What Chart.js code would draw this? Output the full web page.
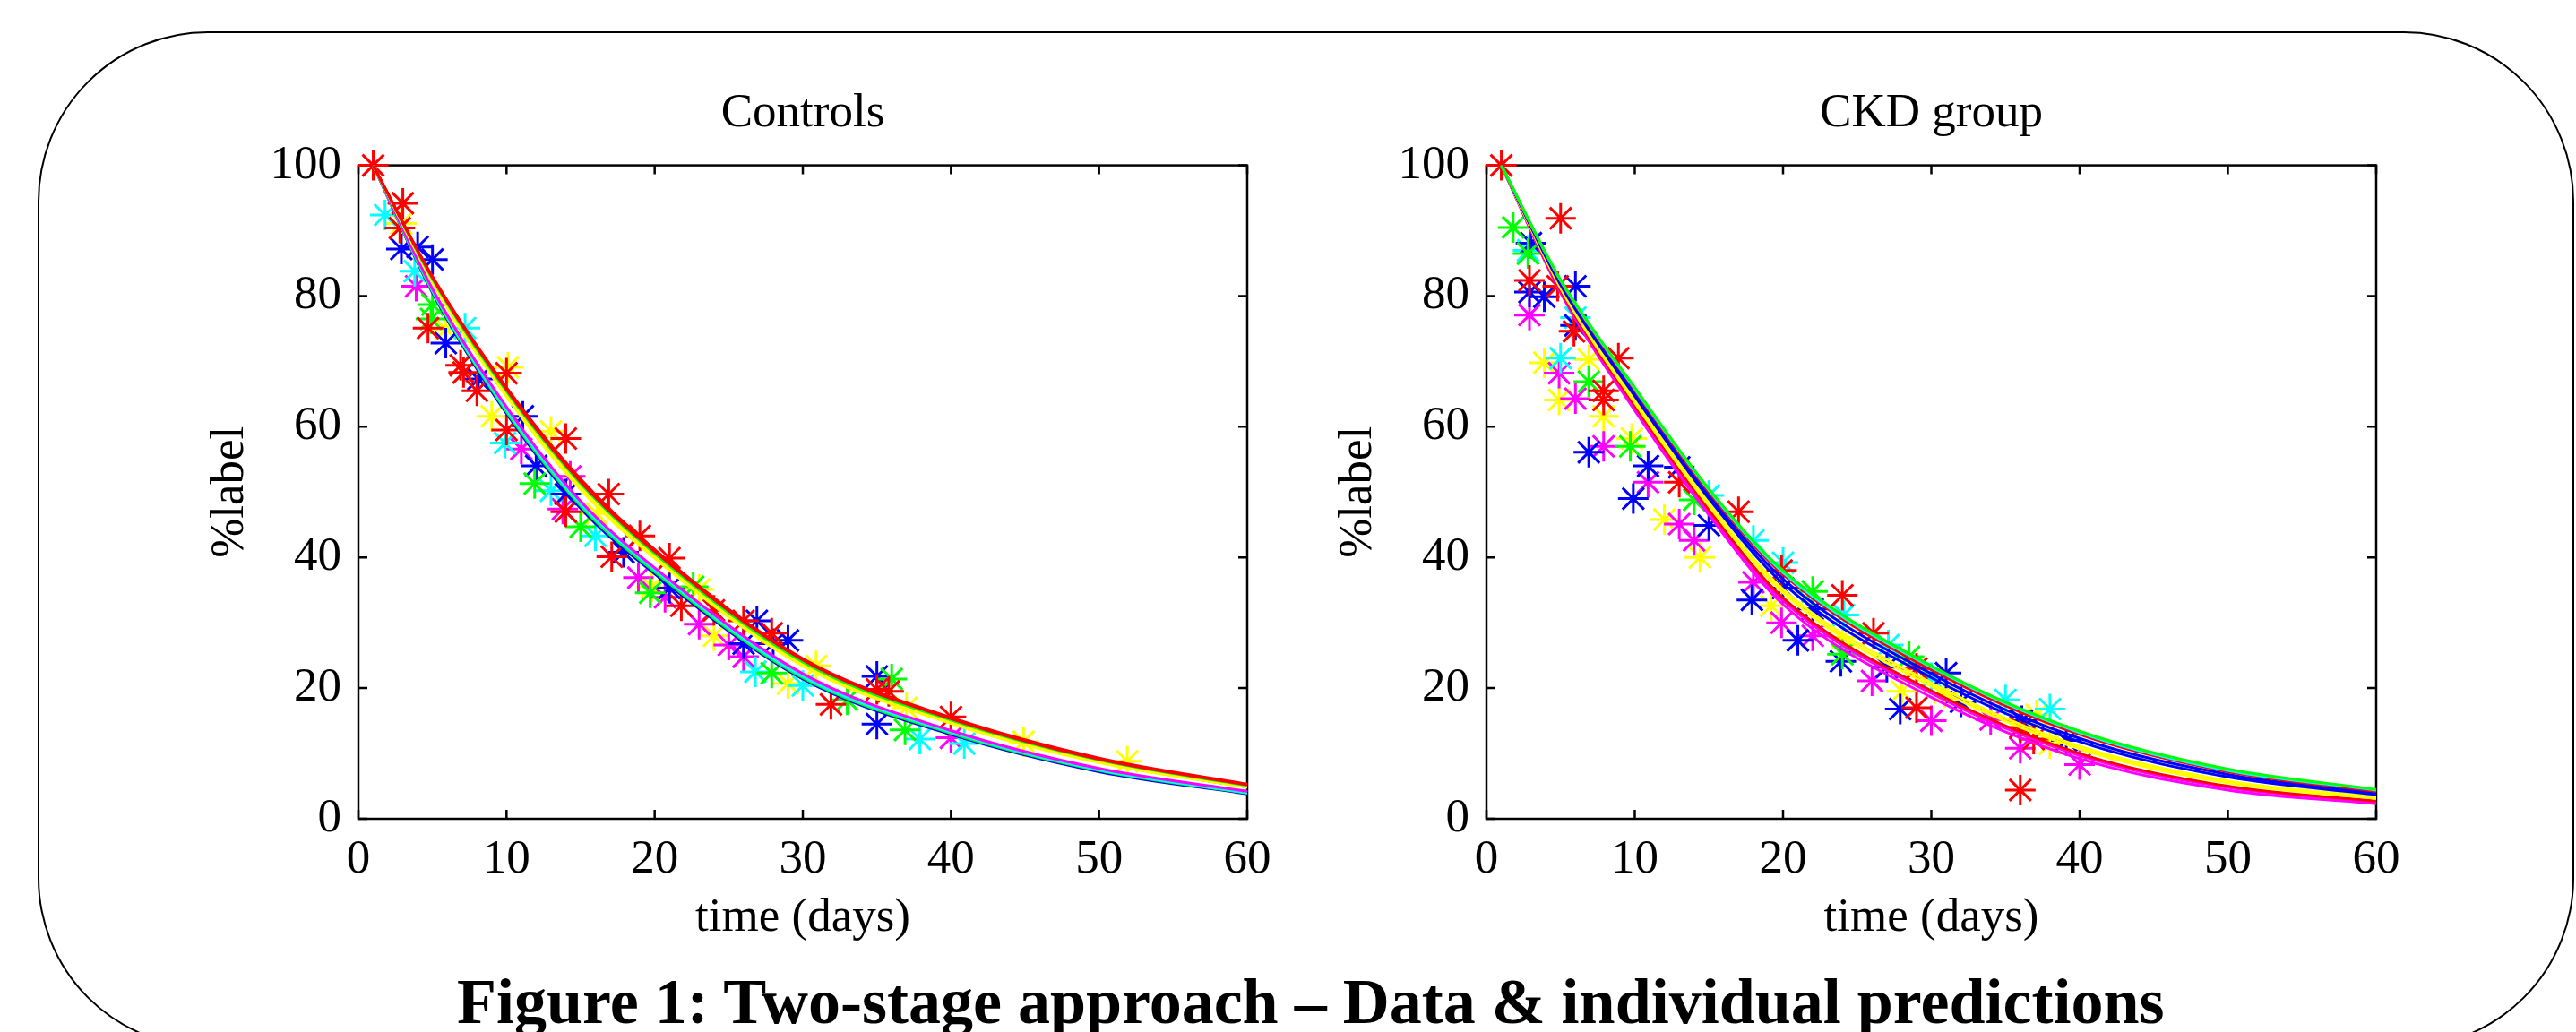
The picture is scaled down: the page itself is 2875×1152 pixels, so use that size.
<!DOCTYPE html>
<html>
<head>
<meta charset="utf-8">
<script src="https://cdn.jsdelivr.net/npm/chart.js@4.4.0/dist/chart.umd.min.js"></script>
<style>
  body { margin: 0; width: 2875px; height: 1152px; overflow: hidden; background: #fff; position: relative; }
  .frame { position: absolute; left: 42px; top: 35px; width: 2831px; height: 1135px; box-sizing: border-box;
           border: 2px solid #000; border-radius: 190px; }
  canvas { position: absolute; }
  .caption { position: absolute; left: 510px; top: 1082px; font: bold 72px "Liberation Serif", "Times New Roman", serif;
             line-height: 72px; white-space: nowrap; color: #000; }
</style>
</head>
<body>
<div class="frame"></div>
<canvas id="controls" width="1250" height="980" style="left:200px; top:80px"></canvas>
<canvas id="ckd" width="1251" height="980" style="left:1459px; top:80px"></canvas>
<div class="caption">Figure 1: Two-stage approach – Data &amp; individual predictions</div>

<script>
const xTicks = [0, 10, 20, 30, 40, 50, 60];
const yTicks = [0, 20, 40, 60, 80, 100];
const curveTimes = [1, 5, 10, 15, 20, 30, 40, 50, 60];

// Controls: measured data (time, %label)
const ctrlRed = [[1,100],[3,94.2],[2.8,90.4],[4.7,75.1],[6.9,69.4],[7.1,68.3],[10,68.2],[8,65.5],[10,59.5],[14,58.2],[14,47.0],[16.9,49.7],[17.1,40.1],[19,43.3],[21,39.9],[21.8,32.6],[24,31.9],[26,30.3],[27.9,28.4],[31.9,17.5],[35,19.8],[35.8,19.5],[40,15.6]];
const ctrlGreen = [[5,78.7],[4.9,76.5],[11.9,51.3],[15,44.7],[19.7,34.6],[22.6,35.5],[27.9,22.3],[33,18.2],[36,21.4],[36.9,13.6]];
const ctrlBlue = [[2.9,87.2],[4,87.5],[5,85.6],[5.9,72.8],[8.1,67.3],[11.1,61.6],[12,54.0],[14,49.7],[17.9,40.8],[21,35.3],[26.9,30.3],[29,27.3],[28,26.8],[26,26.8],[35,21.8],[35,14.5]];
const ctrlCyan = [[1.8,92.4],[3.8,83.8],[7.2,75.1],[9.9,57.5],[13,50.2],[16,43.3],[26.8,22.5],[30,20.4],[37.9,12.2],[40.9,11.5]];
const ctrlMagenta = [[3.9,81.5],[11,56.6],[14.3,52.4],[13.8,47.4],[18.9,36.9],[20.7,33.9],[23,29.8],[25,26.6],[26,24.8],[40,12.4]];
const ctrlYellow = [[2.9,91.1],[5.9,74.9],[10.1,69.1],[9,61.6],[13,59.3],[16.1,46.7],[19.8,35.5],[23,35.1],[24,28],[29,20.7],[30.9,23.4],[37,17.0],[44.9,11.8],[51.9,8.8]];

// Controls: individual predictions read at curveTimes
const ctrlCurveColors = ["#ff0000", "#ff0000", "#00ff00", "#ffff00", "#ffff00", "#0000ff", "#ff00ff", "#00ffff", "#00ff00", "#0000ff"];
const ctrlCurves = [
  [100, 83.0, 66.0, 52.0, 41.2, 24.5, 15.5, 9.3, 5.3],
  [100, 82.8, 65.7, 51.6, 40.9, 24.3, 15.3, 9.1, 5.2],
  [100, 82.6, 65.4, 51.3, 40.6, 24.0, 15.1, 9.0, 5.1],
  [100, 82.4, 65.0, 50.9, 40.3, 23.7, 14.8, 8.8, 4.9],
  [100, 82.1, 64.6, 50.4, 39.9, 23.4, 14.6, 8.6, 4.8],
  [100, 82.2, 64.8, 50.6, 40.1, 23.6, 14.7, 8.7, 4.85],
  [100, 81.1, 63.0, 48.6, 38.4, 22.2, 13.5, 7.7, 4.2],
  [100, 80.9, 62.6, 48.2, 38.1, 21.8, 13.3, 7.5, 4.0],
  [100, 80.7, 62.3, 47.9, 37.8, 21.6, 13.1, 7.4, 3.9],
  [100, 80.5, 62.0, 47.5, 37.5, 21.4, 12.9, 7.2, 3.8]
];

// CKD group: measured data
const ckdRed = [[1,100],[5,91.9],[2.9,82.4],[4.8,81.5],[5.9,74.6],[8.9,70.5],[7.9,65.5],[7.9,64.1],[13,51.5],[17,47.0],[19.9,38.0],[24,34.2],[26.1,28.4],[29,23.0],[29,17.0],[36,14.0],[36.9,12.2],[36,4.4]];
const ckdGreen = [[1.8,90.5],[2.8,86.5],[6.9,66.9],[9.7,57.0],[14,48.8],[22,34.8],[24,25.2],[28.5,24.8]];
const ckdBlue = [[3,88.1],[2.9,80.6],[3.9,79.9],[6,81.5],[6,75.5],[6.9,56.1],[10.9,54.0],[13,53.8],[9.9,49.0],[15,44.9],[17.9,33.5],[20,35.3],[22,32.1],[21,27.3],[23.9,24.1],[27,23.2],[31,22.3],[27.9,16.8],[32,17.9],[36.1,15.0],[39.1,12.0]];
const ckdCyan = [[2.8,87.0],[6,76.7],[5,70.5],[15,49.5],[18,42.6],[20,39.2],[24.1,31.2],[27.1,26.6],[30,21.6],[35,18.2],[38,16.8]];
const ckdMagenta = [[2.9,77.1],[4.9,68.2],[6,64.3],[7.9,57.0],[10.9,51.5],[13,45.1],[14,42.6],[18,36.2],[19.9,30.0],[22,28.0],[26,21.1],[30,15.0],[34,15.2],[36,10.8],[40,8.3]];
const ckdYellow = [[3.9,69.8],[6.9,70.3],[4.9,64.1],[7.9,61.6],[9.8,58.2],[12,45.8],[14.4,40.0],[19.2,32.6],[24,27.8],[28,19.5],[30.9,19.3],[37.1,15.9],[38,11.5]];

// CKD group: individual predictions
const ckdCurveColors = ["#00ff00", "#00ffff", "#ff0000", "#0000ff", "#0000ff", "#ffff00", "#ffff00", "#ff0000", "#ff00ff", "#ff00ff"];
const ckdCurves = [
  [100, 82.5, 66.0, 50.5, 38.0, 23.4, 13.4, 7.6, 4.5],
  [100, 82.4, 65.8, 50.3, 37.7, 23.2, 13.2, 7.4, 4.4],
  [100, 82.3, 65.6, 50.0, 37.4, 22.8, 12.9, 7.2, 4.2],
  [100, 82.0, 65.1, 49.5, 36.7, 22.2, 12.3, 6.8, 4.0],
  [100, 81.7, 64.7, 49.0, 36.0, 21.6, 11.8, 6.4, 3.7],
  [100, 81.4, 64.1, 48.3, 35.1, 20.8, 11.1, 5.8, 3.3],
  [100, 81.2, 63.7, 47.9, 34.6, 20.3, 10.7, 5.5, 3.1],
  [100, 80.9, 63.2, 47.3, 33.8, 19.6, 10.0, 5.0, 2.7],
  [100, 80.7, 62.9, 47.0, 33.4, 19.2, 9.7, 4.8, 2.6],
  [100, 80.5, 62.5, 46.5, 32.8, 18.6, 9.2, 4.4, 2.3]
];

const serif = "'Liberation Serif', 'Times New Roman', serif";

// matlab style box with inward ticks on all four sides
const axesBox = {
    id: "axesBox",
    beforeDatasetsDraw(chart) {
        const { ctx, chartArea: a, scales } = chart;
        ctx.save();
        ctx.strokeStyle = "#000";
        ctx.lineWidth = 2.5;
        ctx.strokeRect(a.left, a.top, a.right - a.left, a.bottom - a.top);
        ctx.beginPath();
        xTicks.forEach((v) => {
            const px = scales.x.getPixelForValue(v);
            ctx.moveTo(px, a.bottom); ctx.lineTo(px, a.bottom - 10);
            ctx.moveTo(px, a.top); ctx.lineTo(px, a.top + 10);
        });
        yTicks.forEach((v) => {
            const py = scales.y.getPixelForValue(v);
            ctx.moveTo(a.left, py); ctx.lineTo(a.left + 10, py);
            ctx.moveTo(a.right, py); ctx.lineTo(a.right - 10, py);
        });
        ctx.stroke();
        ctx.restore();
    },
};

function pointSet(pairs, color) {
    return {
        data: pairs.map(([x, y]) => ({ x, y })),
        showLine: false,
        pointStyle: "star",
        pointRadius: 17,
        pointBorderWidth: 3,
        borderColor: color,
        backgroundColor: color,
        clip: false,
    };
}

function curveSet(values, color) {
    return {
        data: values.map((y, i) => ({ x: curveTimes[i], y })),
        showLine: true,
        pointRadius: 0,
        borderWidth: 3,
        borderColor: color,
        cubicInterpolationMode: "monotone",
        fill: false,
    };
}

function renderPanel(id, title, pointGroups, curves, colors) {
    const datasets = [];
    curves.forEach((c, i) => datasets.push(curveSet(c, colors[i])));
    pointGroups.forEach(([pairs, color]) => datasets.push(pointSet(pairs, color)));

    new Chart(document.getElementById(id), {
        type: "scatter",
        data: { datasets },
        options: {
            responsive: false,
            devicePixelRatio: 1,
            animation: false,
            events: [],
            layout: { padding: { left: 0, right: 58, top: 0, bottom: 0 } },
            plugins: {
                legend: { display: false },
                tooltip: { enabled: false },
                title: {
                    display: true,
                    text: title,
                    fullSize: false,
                    color: "#000",
                    font: { family: serif, size: 53, weight: "normal" },
                    padding: { top: 15, bottom: 26 },
                },
            },
            scales: {
                x: {
                    type: "linear",
                    min: 0,
                    max: 60,
                    grid: { display: false, drawTicks: false },
                    border: { display: false },
                    ticks: { stepSize: 10, padding: 14, color: "#000", font: { family: serif, size: 53 } },
                    title: {
                        display: true,
                        text: "time (days)",
                        color: "#000",
                        font: { family: serif, size: 53 },
                        padding: { top: 0, bottom: 3 },
                    },
                    afterFit: (s) => { s.height = 146; },
                },
                y: {
                    type: "linear",
                    min: 0,
                    max: 100,
                    grid: { display: false, drawTicks: false },
                    border: { display: false },
                    ticks: { stepSize: 20, padding: 19, color: "#000", font: { family: serif, size: 53 } },
                    title: {
                        display: true,
                        text: "%label",
                        color: "#000",
                        font: { family: serif, size: 53 },
                        padding: { top: 25, bottom: 0 },
                    },
                    afterFit: (s) => { s.width = 200; },
                },
            },
        },
        plugins: [axesBox],
    });
}

renderPanel("controls", "Controls", [
    [ctrlRed, "#ff0000"], [ctrlGreen, "#00ff00"], [ctrlBlue, "#0000ff"],
    [ctrlCyan, "#00ffff"], [ctrlMagenta, "#ff00ff"], [ctrlYellow, "#ffff00"],
], ctrlCurves, ctrlCurveColors);

renderPanel("ckd", "CKD group", [
    [ckdRed, "#ff0000"], [ckdGreen, "#00ff00"], [ckdBlue, "#0000ff"],
    [ckdCyan, "#00ffff"], [ckdMagenta, "#ff00ff"], [ckdYellow, "#ffff00"],
], ckdCurves, ckdCurveColors);
</script>
</body>
</html>
